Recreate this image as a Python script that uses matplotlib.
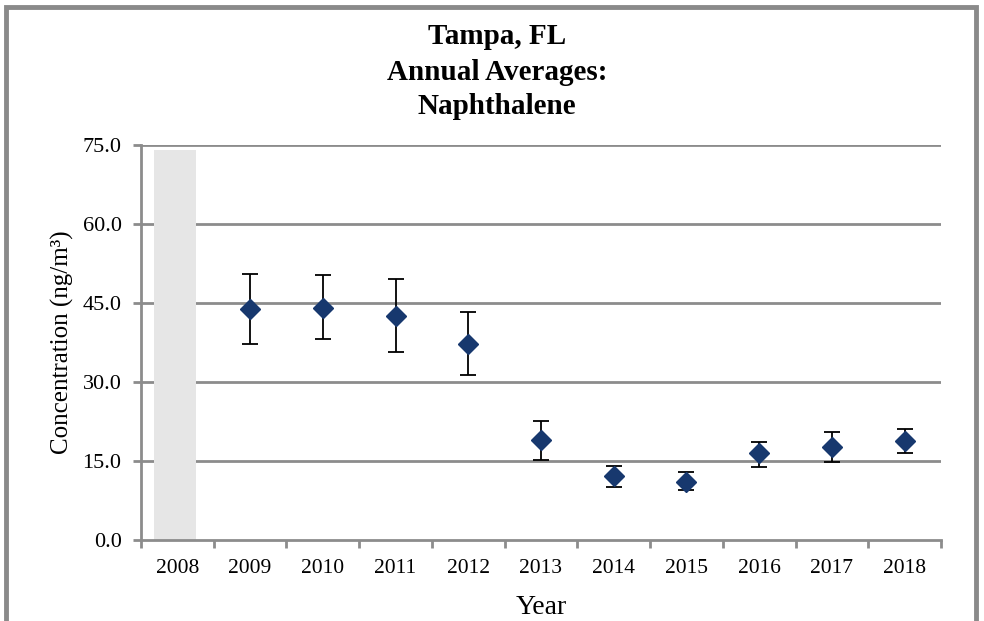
import matplotlib
matplotlib.use("Agg")
import matplotlib.pyplot as plt
from matplotlib.patches import Rectangle
import numpy as np

years = ["2008", "2009", "2010", "2011", "2012", "2013", "2014", "2015", "2016", "2017", "2018"]
means = [np.nan, 43.8, 44.0, 42.6, 37.3, 18.9, 12.1, 11.1, 16.5, 17.6, 18.8]
upper = [np.nan, 50.6, 50.3, 49.6, 43.2, 22.6, 14.0, 13.0, 18.7, 20.6, 21.1]
lower = [np.nan, 37.2, 38.1, 35.7, 31.3, 15.1, 10.0, 9.5, 13.9, 14.9, 16.5]
nodata_years = ["2008"]
nodata_height = 74.0
yticks = [0, 15, 30, 45, 60, 75]
title_lines = ["Tampa, FL", "Annual Averages:", "Naphthalene"]

plt.rcParams['font.family'] = ['Liberation Serif', 'DejaVu Serif']

fig = plt.figure(figsize=(9.84, 6.21), dpi=100)
ax = fig.add_axes([141/984, 1-540/621, 800/984, 395/621])

x = np.arange(len(years))
grey = "#8c8c8c"

# no-data band
for y in nodata_years:
    i = years.index(y)
    ax.bar(i - 0.03, nodata_height, width=0.57, color="#e6e6e6", zorder=1)

for t in yticks[1:]:
    ax.axhline(t, color=grey, lw=2, zorder=0)

m = np.array(means)
yerr = np.array([m - np.array(lower), np.array(upper) - m])
ax.errorbar(x, m, yerr=yerr, fmt='none', ecolor='black', elinewidth=1.3,
            capsize=6, capthick=1.3, zorder=3)
ax.plot(x, m, linestyle='none', marker='D', markersize=10, color='#17386e',
        markeredgecolor='#17386e', zorder=4)

ax.set_xlim(-0.5, len(years) - 0.5)
ax.set_ylim(0, 75)
ax.set_yticks(yticks)
ax.set_yticklabels([f"{v:.1f}" for v in yticks], fontsize=16)
ax.set_xticks(x)
ax.set_xticklabels(years, fontsize=15.5)
ax.set_xticks(np.arange(-0.5, len(years)), minor=True)
ax.tick_params(axis='x', which='major', length=0, pad=14)
ax.tick_params(axis='x', which='minor', length=6, width=2, color=grey, direction='out')
ax.tick_params(axis='y', length=6, width=2, color=grey, direction='out', pad=8)

for s in ['top', 'right']:
    ax.spines[s].set_visible(False)
for s in ['left', 'bottom']:
    ax.spines[s].set_color(grey)
    ax.spines[s].set_linewidth(2)

ax.set_xlabel("Year", fontsize=20, labelpad=12)
ax.set_ylabel("Concentration (ng/m³)", fontsize=18, labelpad=6)

for k, line in enumerate(title_lines):
    fig.text(497/984, 1 - (37 + 35*k)/621, line, ha='center', va='center',
             fontsize=21, fontweight='bold')

fig.patches.append(Rectangle((6/984, -0.1), 970/984, 1.1 - 7/621, transform=fig.transFigure,
                             fill=False, edgecolor="#8a8a8a", lw=3.5, clip_on=False))

fig.savefig("out.png", dpi=100)
